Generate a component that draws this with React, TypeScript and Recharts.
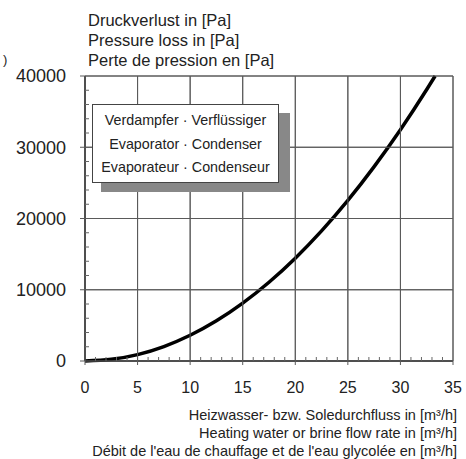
import { LineChart, Line, XAxis, YAxis, CartesianGrid } from 'recharts'

// flow rate [m3/h] and pressure loss [Pa]
const flow = [0, 2.5, 5, 7.5, 10, 12.5, 15, 17.5, 20, 22.5, 25, 27.5, 30, 32.5, 33.3]
const pressure = [0, 230, 900, 2030, 3610, 5640, 8120, 11050, 14430, 18260, 22540, 27280, 32460, 38100, 40000]

const xTicks = [0, 5, 10, 15, 20, 25, 30, 35]
const yTicks = [0, 10000, 20000, 30000, 40000]
const xDomain = [0, 35]
const yDomain = [0, 40000]

const yTitle = ['Druckverlust in [Pa]', 'Pressure loss in [Pa]', 'Perte de pression en [Pa]']
const xTitle = [
  'Heizwasser- bzw. Soledurchfluss in [m³/h]',
  'Heating water or brine flow rate in [m³/h]',
  "Débit de l'eau de chauffage et de l'eau glycolée en [m³/h]",
]
const boxLines = ['Verdampfer · Verflüssiger', 'Evaporator · Condenser', 'Evaporateur · Condenseur']

const data = flow.map((f, i) => ({ flow: f, pressure: pressure[i] }))

const font = '"Liberation Sans", Arial, sans-serif'
const W = 466
const H = 459
const Y_AXIS_W = 85
const X_AXIS_H = 98
const margin = { top: 76, right: 13, bottom: 0, left: 0 }
const plotW = W - margin.right - Y_AXIS_W
const plotH = H - margin.top - X_AXIS_H
const gridColor = '#5a5a5a'
const minorPerMajor = 5
const xMajorStep = plotW / (xTicks.length - 1)
const yMajorStep = plotH / (yTicks.length - 1)

// major ticks carry the label, the grid line and an outward tick, plus the small inward ticks up to the next one
function XTick(props: any) {
  const { x, y, payload } = props
  const last = payload.value === xTicks[xTicks.length - 1]
  return (
    <g>
      <line x1={x} y1={y + 4} x2={x} y2={y - plotH} stroke={gridColor} strokeWidth={1} />
      {!last &&
        [1, 2, 3, 4].map((k) => {
          const mx = x + (k * xMajorStep) / minorPerMajor
          return <line key={k} x1={mx} y1={y} x2={mx} y2={y - 4} stroke="#666" />
        })}
      <text x={x} y={y + 21} dy="0.71em" textAnchor="middle" fontSize={16} fontFamily={font} fill="#222">
        {payload.value}
      </text>
    </g>
  )
}

function YTick(props: any) {
  const { x, y, payload } = props
  const last = payload.value === yTicks[yTicks.length - 1]
  return (
    <g>
      <line x1={x - 5} y1={y} x2={x + plotW} y2={y} stroke={gridColor} strokeWidth={1} />
      {!last &&
        [1, 2, 3, 4].map((k) => {
          const my = y - (k * yMajorStep) / minorPerMajor
          return <line key={k} x1={x} y1={my} x2={x + 4} y2={my} stroke="#666" />
        })}
      <text x={x - 19} y={y} dy="0.355em" textAnchor="end" fontSize={18} fontFamily={font} fill="#222">
        {payload.value}
      </text>
    </g>
  )
}

export default function App() {
  return (
    <div style={{ position: 'absolute', left: 0, top: 0, width: W, height: H, background: '#fff', fontFamily: font, color: '#222' }}>
      <LineChart width={W} height={H} data={data} margin={margin}>
        <CartesianGrid stroke={gridColor} syncWithTicks />
        <XAxis
          dataKey="flow"
          type="number"
          domain={xDomain}
          ticks={xTicks}
          interval={0}
          height={X_AXIS_H}
          tickSize={0}
          tickMargin={0}
          tickLine={false}
          axisLine={{ stroke: '#222', strokeWidth: 1.5 }}
          tick={<XTick />}
        />
        <YAxis
          type="number"
          domain={yDomain}
          ticks={yTicks}
          interval={0}
          width={Y_AXIS_W}
          tickSize={0}
          tickMargin={0}
          tickLine={false}
          axisLine={{ stroke: '#222', strokeWidth: 1.5 }}
          tick={<YTick />}
        />
        <Line
          type="monotone"
          dataKey="pressure"
          stroke="#000"
          strokeWidth={3.5}
          dot={false}
          isAnimationActive={false}
        />
      </LineChart>

      <div style={{ position: 'absolute', left: 3, top: 52, fontSize: 13 }}>)</div>

      <div style={{ position: 'absolute', left: 88, top: 10, fontSize: 16.5, lineHeight: '20px', whiteSpace: 'nowrap' }}>
        {yTitle.map((t) => (
          <div key={t}>{t}</div>
        ))}
      </div>

      <div style={{ position: 'absolute', right: 9, top: 406, fontSize: 14.5, lineHeight: '18px', textAlign: 'right', whiteSpace: 'nowrap' }}>
        {xTitle.map((t) => (
          <div key={t}>{t}</div>
        ))}
      </div>

      <div style={{ position: 'absolute', left: 101, top: 113, width: 189, height: 79, background: '#888' }} />
      <div
        style={{
          position: 'absolute',
          left: 92,
          top: 104,
          width: 187,
          height: 79,
          background: '#fff',
          border: '1.5px solid #444',
          fontSize: 14.3,
          lineHeight: '23.5px',
          textAlign: 'center',
          paddingTop: 4,
          boxSizing: 'border-box',
          whiteSpace: 'nowrap',
        }}
      >
        {boxLines.map((t) => (
          <div key={t}>{t}</div>
        ))}
      </div>
    </div>
  )
}
